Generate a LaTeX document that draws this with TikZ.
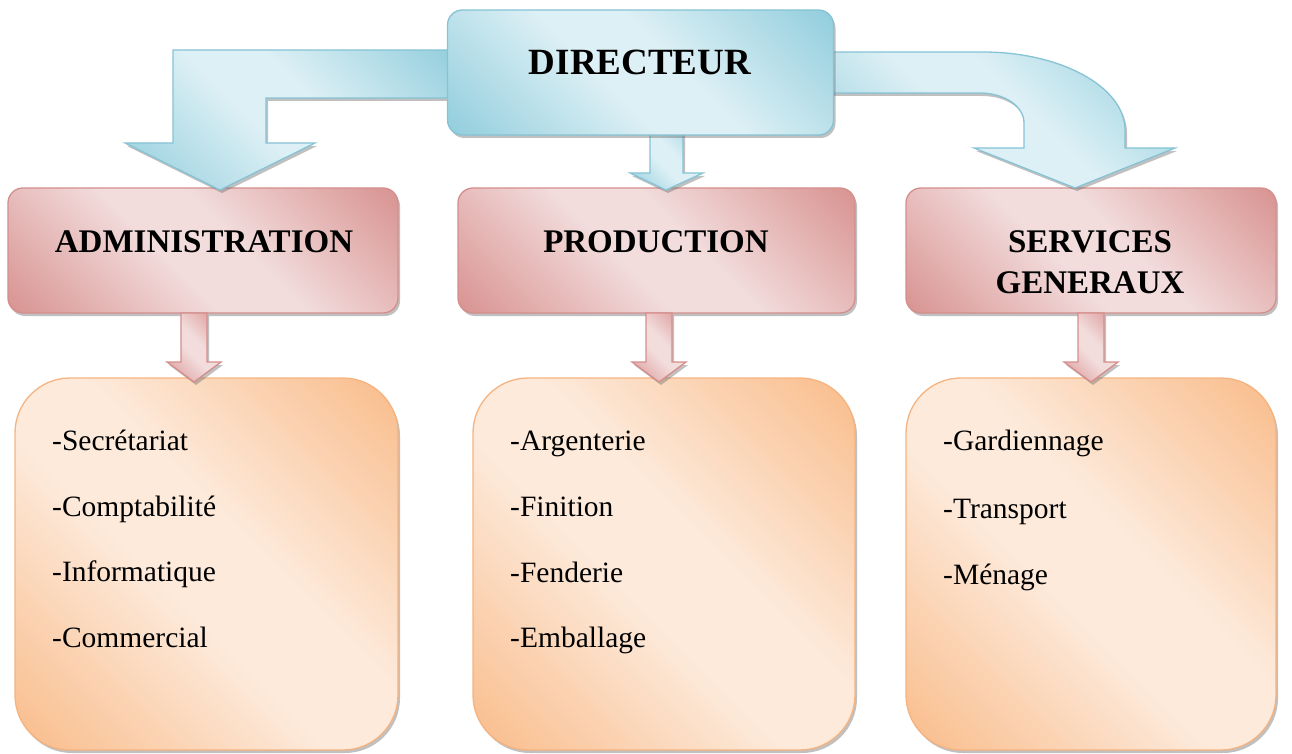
\documentclass[tikz,border=0pt]{standalone}
\usepackage{fontspec}
\setmainfont{Liberation Serif}
\usetikzlibrary{shadows,calc}
\definecolor{bL}{HTML}{DDF0F5}
\definecolor{bD}{HTML}{95CFDE}
\definecolor{bB}{HTML}{86C3D5}
\definecolor{pL}{HTML}{F2DCDC}
\definecolor{pD}{HTML}{D99694}
\definecolor{pB}{HTML}{D48F8D}
\definecolor{oL}{HTML}{FDEADB}
\definecolor{oD}{HTML}{F9BE8E}
\definecolor{oB}{HTML}{F6B37F}
\pgfdeclarehorizontalshading{bshade}{100bp}{color(0bp)=(bD); color(16bp)=(bD); color(44bp)=(bL); color(56bp)=(bL); color(84bp)=(bD); color(100bp)=(bD)}
\pgfdeclarehorizontalshading{pshade}{100bp}{color(0bp)=(pD); color(16bp)=(pD); color(44bp)=(pL); color(56bp)=(pL); color(84bp)=(pD); color(100bp)=(pD)}
\pgfdeclarehorizontalshading{oshade}{100bp}{color(0bp)=(oD); color(16bp)=(oD); color(44bp)=(oL); color(56bp)=(oL); color(84bp)=(oD); color(100bp)=(oD)}
\tikzset{
  shad/.style={drop shadow={shadow xshift=2pt,shadow yshift=-3pt,opacity=.45,fill=black!55}},
  bluebox/.style={shad,draw=bB,line width=1.3pt,shading=bshade,shading angle=45,rounded corners=15pt,inner sep=0pt},
  pinkbox/.style={shad,draw=pB,line width=1.3pt,shading=pshade,shading angle=45,rounded corners=15pt,inner sep=0pt,minimum height=125pt},
  orbox/.style={shad,draw=oB,line width=1.3pt,shading=oshade,shading angle=45,rounded corners=55pt,inner sep=0pt,minimum height=372pt},
  bluearrow/.style={shad,draw=bB,line width=1.3pt,shading=bshade,shading angle=45},
  pinkarrow/.style={shad,draw=pB,line width=1.3pt,shading=pshade,shading angle=45},
  headtext/.style={font=\bfseries\fontsize{33}{38}\selectfont,anchor=base,inner sep=0pt},
  itemtext/.style={font=\fontsize{29.5}{34}\selectfont,anchor=base west,inner sep=0pt},
}
\begin{document}
\begin{tikzpicture}[x=1pt,y=-1pt]
\useasboundingbox (0,0) rectangle (1292,754);

% second level boxes
\node[pinkbox,minimum width=390pt] (adm) at (203,250.5) {};
\node[pinkbox,minimum width=397pt] (prod) at (656.5,250.5) {};
\node[pinkbox,minimum width=370pt] (serv) at (1091,250.5) {};

% third level boxes
\node[orbox,minimum width=383pt] (ob1) at (206.5,564) {};
\node[orbox,minimum width=382pt] (ob2) at (664,564) {};
\node[orbox,minimum width=370pt] (ob3) at (1091,564) {};

% pink arrows
\foreach \n/\c in {adm/194,prod/659,serv/1091}{
  \draw[pinkarrow] (\c-13,313) -- (\c-13,362) -- (\c-27,362) -- (\c,382) -- (\c+27,362) -- (\c+13,362) -- (\c+13,313) -- cycle;
}

% blue arrows
\draw[bluearrow] (460,50) -- (173,50) -- (173,143) -- (125,143) -- (220,190) -- (315,143) -- (266,143) -- (266,98) -- (460,98) -- cycle;
\draw[bluearrow] (650,125) -- (650,173) -- (630,173) -- (666,190) -- (703,173) -- (683,173) -- (683,125) -- cycle;
\draw[bluearrow] (820,52) -- (983,52) .. controls (1061,52) and (1125,87) .. (1125,130) -- (1125,148) -- (1175,148) -- (1075,188) -- (974,148) -- (1024,148) -- (1024,123) .. controls (1024,106) and (1004,93) .. (980,93) -- (820,93) -- cycle;

% director
\node[bluebox,minimum width=386pt,minimum height=125pt] (dir) at (640.5,72.5) {};

% texts
\node[headtext,font=\bfseries\fontsize{37}{40}\selectfont] (tdir) at (640,75) {DIRECTEUR};
\node[headtext] (tadm) at (204,252) {ADMINISTRATION};
\node[headtext] (tprod) at (656,252) {PRODUCTION};
\node[headtext] (tserv1) at (1090,252) {SERVICES};
\node[headtext] (tserv2) at (1090,293) {GENERAUX};

\node[itemtext] (a1) at (52,450) {-Secrétariat};
\node[itemtext] (a2) at (52,516) {-Comptabilité};
\node[itemtext] (a3) at (52,581) {-Informatique};
\node[itemtext] (a4) at (52,647) {-Commercial};

\node[itemtext] (b1) at (510,450) {-Argenterie};
\node[itemtext] (b2) at (510,516) {-Finition};
\node[itemtext] (b3) at (510,582) {-Fenderie};
\node[itemtext] (b4) at (510,647) {-Emballage};

\node[itemtext] (c1) at (943,450) {-Gardiennage};
\node[itemtext] (c2) at (943,518) {-Transport};
\node[itemtext] (c3) at (943,584) {-Ménage};
\end{tikzpicture}
\end{document}
